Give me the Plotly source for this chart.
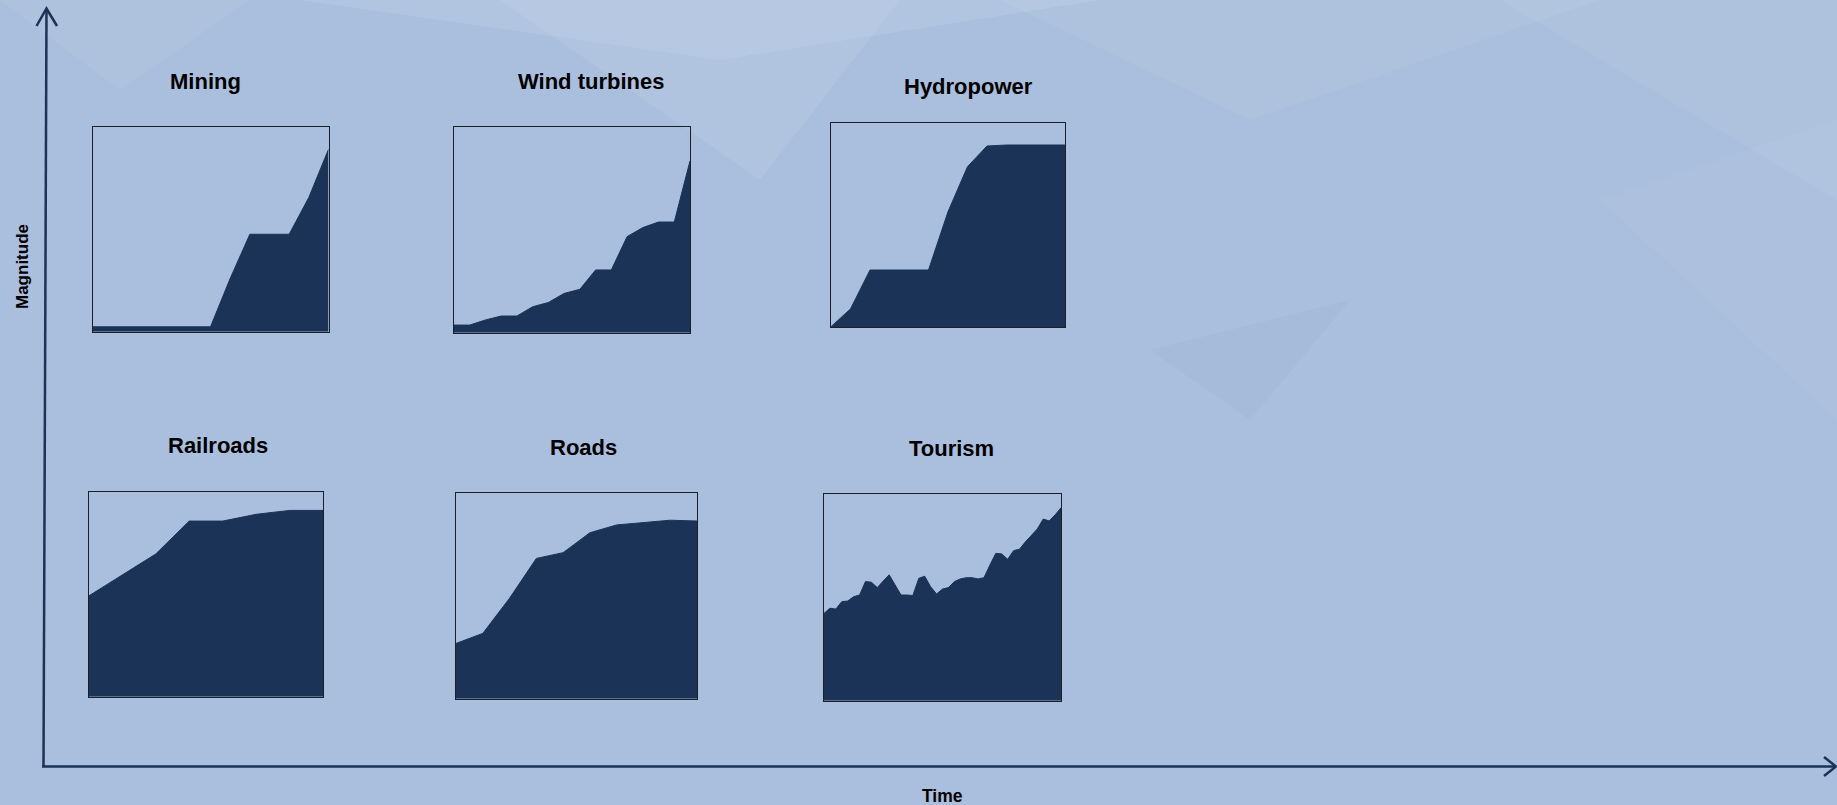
import plotly.graph_objects as go

W, H = 1837, 805

# ---- data (normalised magnitude, fraction of panel height) ----
mining = [0.024, 0.024, 0.024, 0.024, 0.024, 0.024, 0.024, 0.26, 0.476, 0.476, 0.476, 0.656, 0.891]
wind = [0.037, 0.037, 0.062, 0.081, 0.081, 0.126, 0.147, 0.191, 0.211, 0.305, 0.305,
        0.467, 0.511, 0.538, 0.538, 0.835]
hydro = [0.003, 0.09, 0.28, 0.28, 0.28, 0.28, 0.565, 0.785, 0.886, 0.891, 0.891, 0.891, 0.891]
railroads = [0.492, 0.594, 0.697, 0.858, 0.858, 0.891, 0.910, 0.910]
roads = [0.269, 0.318, 0.489, 0.683, 0.711, 0.808, 0.846, 0.859, 0.869, 0.865]
tourism = [0.423, 0.448, 0.444, 0.480, 0.483, 0.504, 0.512, 0.577, 0.574, 0.548,
           0.580, 0.610, 0.561, 0.512, 0.512, 0.510, 0.593, 0.603, 0.552, 0.517,
           0.541, 0.548, 0.577, 0.590, 0.596, 0.596, 0.590, 0.596, 0.657, 0.714,
           0.711, 0.685, 0.727, 0.734, 0.770, 0.800, 0.832, 0.880, 0.871, 0.900, 0.935]

titles = ["Mining", "Wind turbines", "Hydropower", "Railroads", "Roads", "Tourism"]
series = [mining, wind, hydro, railroads, roads, tourism]

# panel boxes in pixels: (left, right, top, bottom)
boxes = [(92.5, 328.5, 127, 331.7), (454, 690, 127, 332.7), (831, 1065, 122.7, 327.3),
         (88.7, 323.3, 492, 696.7), (456, 697, 493.3, 698.7), (824, 1061, 494.3, 700.7)]
title_pos = [(205.5, 81.5), (591, 81.5), (968, 86), (218, 445.5), (583.5, 447.5), (951, 448)]

FILL = "#1a3357"
BG = "#aabfdd"

def px(x):
    return x / W

def py(y):
    return 1 - y / H

fig = go.Figure()
layout = dict(
    width=W, height=H, margin=dict(l=0, r=0, t=0, b=0),
    paper_bgcolor=BG, plot_bgcolor="rgba(0,0,0,0)", showlegend=False,
    font=dict(family="Liberation Sans, Arial, sans-serif", color="black"),
)

for i, (vals, box) in enumerate(zip(series, boxes)):
    n = i + 1
    xs = list(range(len(vals)))
    fig.add_trace(go.Scatter(
        x=xs, y=vals, mode="lines", fill="tozeroy", fillcolor=FILL,
        line=dict(color=FILL, width=1), hoverinfo="skip",
        xaxis="x" if n == 1 else f"x{n}", yaxis="y" if n == 1 else f"y{n}",
    ))
    l, r, t, b = box
    axcommon = dict(showgrid=False, zeroline=False, showticklabels=False, ticks="",
                    showline=True, linecolor="#1b1f28", linewidth=1.2, mirror=True)
    layout["xaxis" if n == 1 else f"xaxis{n}"] = dict(
        domain=[px(l), px(r)], range=[0, len(vals) - 1],
        anchor="y" if n == 1 else f"y{n}", **axcommon)
    layout["yaxis" if n == 1 else f"yaxis{n}"] = dict(
        domain=[py(b), py(t)], range=[0, 1],
        anchor="x" if n == 1 else f"x{n}", **axcommon)

fig.update_layout(**layout)

annotations = []
for txt, (x, y) in zip(titles, title_pos):
    annotations.append(dict(text=f"<b>{txt}</b>", x=px(x), y=py(y), xref="paper", yref="paper",
                            showarrow=False, xanchor="center", yanchor="middle",
                            font=dict(size=22, color="black")))
annotations.append(dict(text="<b>Magnitude</b>", x=px(22), y=py(267), xref="paper", yref="paper",
                        showarrow=False, textangle=-90, xanchor="center", yanchor="middle",
                        font=dict(size=17, color="black")))
annotations.append(dict(text="<b>Time</b>", x=px(943), y=py(796), xref="paper", yref="paper",
                        showarrow=False, xanchor="center", yanchor="middle",
                        font=dict(size=17.5, color="black")))

AX = "#1a3357"
shapes = []
# soft low-poly background facets
facets = [
    ([(300, 0), (1100, 0), (720, 60)], "rgba(255,255,255,0.10)"),
    ([(500, 0), (900, 0), (760, 180)], "rgba(255,255,255,0.07)"),
    ([(1000, 0), (1600, 0), (1250, 120)], "rgba(255,255,255,0.05)"),
    ([(1500, 0), (1837, 0), (1837, 200)], "rgba(255,255,255,0.05)"),
    ([(1150, 350), (1350, 300), (1250, 420)], "rgba(90,120,170,0.05)"),
    ([(1600, 200), (1837, 120), (1837, 420)], "rgba(255,255,255,0.04)"),
    ([(0, 0), (250, 0), (120, 90)], "rgba(255,255,255,0.05)"),
]
for pts, col in facets:
    path = "M " + " L ".join(f"{px(a)} {py(b)}" for a, b in pts) + " Z"
    shapes.append(dict(type="path", path=path, xref="paper", yref="paper",
                       fillcolor=col, line=dict(width=0), layer="below"))

# main axes
shapes.append(dict(type="line", xref="paper", yref="paper", x0=px(46.5), y0=py(9), x1=px(43.5), y1=py(766.5),
                   line=dict(color=AX, width=2.5)))
shapes.append(dict(type="line", xref="paper", yref="paper", x0=px(42), y0=py(766.5), x1=px(1835), y1=py(766.5),
                   line=dict(color=AX, width=2.5)))
# arrow heads
shapes.append(dict(type="path", xref="paper", yref="paper",
                   path=f"M {px(36.5)} {py(26)} L {px(46.5)} {py(8.5)} L {px(57)} {py(26)}",
                   line=dict(color=AX, width=2.5)))
shapes.append(dict(type="path", xref="paper", yref="paper",
                   path=f"M {px(1824)} {py(757)} L {px(1836)} {py(766.5)} L {px(1824)} {py(776)}",
                   line=dict(color=AX, width=2.5)))

fig.update_layout(annotations=annotations, shapes=shapes)
fig.write_html(
    "out.html",
    config={"displayModeBar": False},
    post_script="document.body.style.margin='0';document.body.style.padding='0';"
                "document.documentElement.style.overflow='hidden';document.body.style.overflow='hidden';",
)
